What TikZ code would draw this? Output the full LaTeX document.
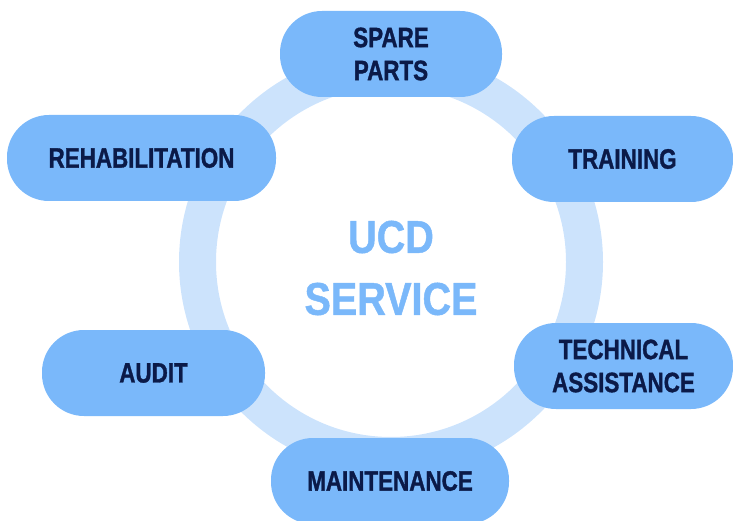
\documentclass[tikz,border=0pt]{standalone}
\usepackage{fontspec}
\setmainfont{Liberation Sans}
\newfontfamily\cfont[FakeStretch=0.80, BoldFeatures={FakeBold=1.2}]{Liberation Sans}
\newfontfamily\tfont[FakeStretch=0.86, BoldFeatures={FakeBold=1}]{Liberation Sans}
\definecolor{boxblue}{HTML}{7AB8FA}
\definecolor{ringblue}{HTML}{CCE3FC}
\definecolor{navy}{HTML}{0B1A48}
\tikzset{
  pill/.style={fill=boxblue, rounded corners=42pt, minimum height=86pt, inner sep=0pt,
    align=center, text=navy, font=\cfont\bfseries\fontsize{28}{33}\selectfont},
  ring/.style={draw=ringblue, line width=37pt}
}
\begin{document}
\begin{tikzpicture}[x=1pt,y=-1pt]
\useasboundingbox (0,0) rectangle (733,521);
\coordinate (c) at (391,262);
\draw[ring] (c) circle (193.5pt);
\node[font=\tfont\bfseries\fontsize{46}{62}\selectfont, text=boxblue, align=center] (title) at (391,268) {UCD\\SERVICE};
\node[pill, minimum width=222pt] (spare) at (391,54) {SPARE\\PARTS};
\node[pill, minimum width=269pt] (rehab) at (141.5,158) {REHABILITATION};
\node[pill, minimum width=221pt] (train) at (622.5,159) {TRAINING};
\node[pill, minimum width=219pt] (tech) at (623.5,366) {TECHNICAL\\ASSISTANCE};
\node[pill, minimum width=223pt] (audit) at (153.5,373) {AUDIT};
\node[pill, minimum width=238pt] (maint) at (390,481) {MAINTENANCE};
\end{tikzpicture}
\end{document}
